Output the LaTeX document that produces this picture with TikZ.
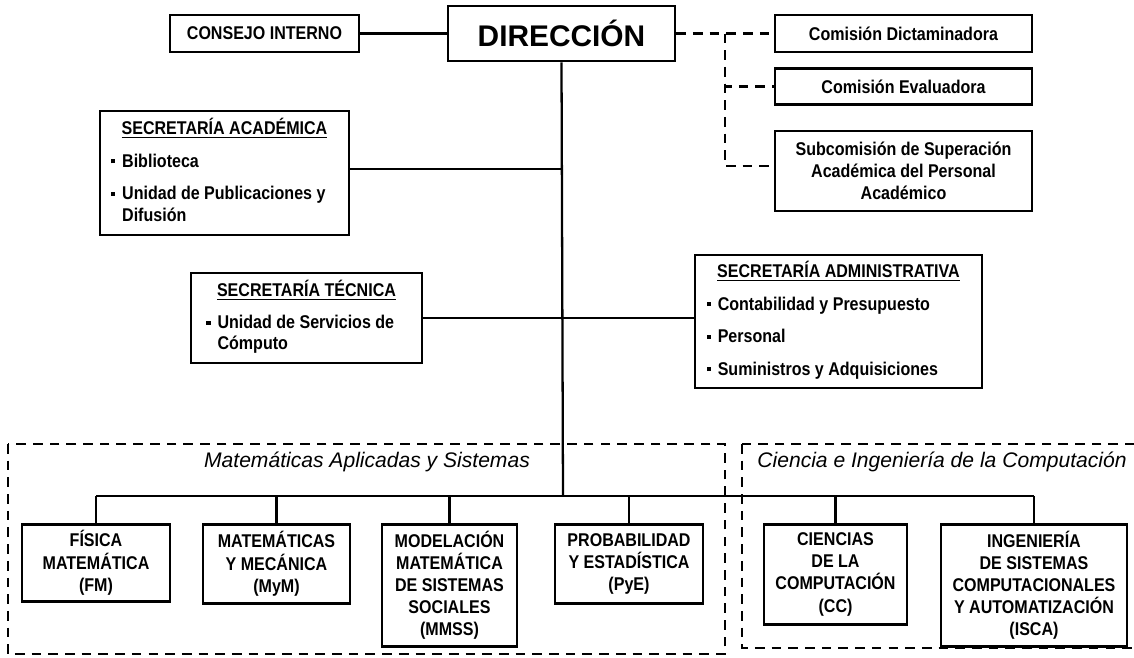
\documentclass[tikz,border=0pt]{standalone}
\usepackage{fontspec}
\setmainfont{Liberation Sans}
\newfontfamily\narrowsans[FakeStretch=0.87]{Liberation Sans}
\usepackage{tikz}
\usetikzlibrary{positioning}

\newcommand{\itm}{\rule[0.22em]{2.3pt}{2.3pt}\hspace{4pt}}

\tikzset{
  unit/.style={shape=rectangle, draw=black, line width=1.5pt, align=center, inner sep=2pt,
    font=\narrowsans\bfseries\fontsize{10.5}{12.6}\selectfont},
  secbox/.style={unit, font=\narrowsans\bfseries\fontsize{10.5}{12}\selectfont},
  link/.style={draw=black, line width=1.3pt},
  dlink/.style={link, dash pattern=on 5.5pt off 4pt},
  region/.style={draw=black, line width=1.3pt, dash pattern=on 5.5pt off 4pt},
  areatitle/.style={font=\itshape\fontsize{12}{14}\selectfont}
}

\begin{document}
\begin{tikzpicture}[x=0.02cm, y=-0.02cm]
  \useasboundingbox (0,0) rectangle (1134,657);

  \draw[region] (8,444) rectangle (725,654);
  \draw[region] (742,444) rectangle (1160,648);
  \node[areatitle] (tma) at (367,462) {Matemáticas Aplicadas y Sistemas};
  \node[areatitle] (tcic) at (942,462) {Ciencia e Ingeniería de la Computación};

  \node[unit, minimum width=4.54cm, minimum height=1.1cm,
        font=\bfseries\fontsize{17}{20}\selectfont] (direccion) at (561.5,33.5) {DIRECCIÓN};
  \node[unit, minimum width=3.78cm, minimum height=0.74cm] (consejo) at (264.5,33.5) {CONSEJO INTERNO};
  \node[unit, minimum width=5.14cm, minimum height=0.74cm] (dictam) at (903.5,33.5) {Comisión Dictaminadora};
  \node[unit, minimum width=5.14cm, minimum height=0.72cm] (evalua) at (903.5,86.5) {Comisión Evaluadora};
  \node[unit, minimum width=5.14cm, minimum height=1.6cm] (subcom) at (903.5,171)
    {Subcomisión de Superación\\Académica del Personal\\Académico};

  \node[secbox, minimum width=4.98cm, minimum height=2.48cm] (secacad) at (224.5,173) {%
    \begin{tabular}{@{}l@{}}
      \multicolumn{1}{c}{\underline{SECRETARÍA ACADÉMICA}}\\[6.5pt]
      \itm Biblioteca\\[6.5pt]
      \itm Unidad de Publicaciones y\\
      \hphantom{\itm}Difusión
    \end{tabular}};
  \node[secbox, minimum width=4.62cm, minimum height=1.8cm] (sectec) at (306.5,318) {%
    \begin{tabular}{@{}l@{}}
      \multicolumn{1}{c}{\underline{SECRETARÍA TÉCNICA}}\\[6.5pt]
      \itm Unidad de Servicios de\\
      \hphantom{\itm}Cómputo
    \end{tabular}};
  \node[secbox, minimum width=5.74cm, minimum height=2.66cm] (secadm) at (838.5,321.5) {%
    \begin{tabular}{@{}l@{}}
      \multicolumn{1}{c}{\underline{SECRETARÍA ADMINISTRATIVA}}\\[6.5pt]
      \itm Contabilidad y Presupuesto\\[6.5pt]
      \itm Personal\\[6.5pt]
      \itm Suministros y Adquisiciones
    \end{tabular}};

  \node[unit, anchor=north, minimum width=2.96cm, minimum height=1.54cm] (fm) at (96,523)
    {FÍSICA\\MATEMÁTICA\\(FM)};
  \node[unit, anchor=north, minimum width=2.94cm, minimum height=1.58cm] (mym) at (276.5,523)
    {MATEMÁTICAS\\Y MECÁNICA\\(MyM)};
  \node[unit, anchor=north, minimum width=2.7cm, minimum height=2.44cm] (mmss) at (449.5,523)
    {MODELACIÓN\\MATEMÁTICA\\DE SISTEMAS\\SOCIALES\\(MMSS)};
  \node[unit, anchor=north, minimum width=2.96cm, minimum height=1.58cm] (pye) at (629,523)
    {PROBABILIDAD\\Y ESTADÍSTICA\\(PyE)};
  \node[unit, anchor=north, minimum width=2.86cm, minimum height=2.0cm] (cc) at (835.5,523)
    {CIENCIAS\\DE LA\\COMPUTACIÓN\\(CC)};
  \node[unit, anchor=north, minimum width=3.72cm, minimum height=2.44cm] (isca) at (1034,523)
    {INGENIERÍA\\DE SISTEMAS\\COMPUTACIONALES\\Y AUTOMATIZACIÓN\\(ISCA)};

  \coordinate (bar) at (563,496);
  \coordinate (jd) at (725,33.5);
  \coordinate (ja) at (563,169);

  \draw[link] (consejo) -- (direccion);
  \draw[link] (direccion.south) -- (bar);
  \draw[link] (ja) -- (ja -| secacad.east);
  \draw[link] (sectec.east) -- (sectec.east -| secadm.west);
  \draw[link] (fm.north |- bar) -- (isca.north |- bar);
  \foreach \u in {fm, mym, mmss, pye, cc, isca}
    \draw[link] (\u.north) -- (\u.north |- bar);

  \draw[dlink] (direccion.east) -- (dictam.west);
  \draw[dlink] (jd) |- (evalua.west);
  \draw[dlink] (jd) |- ([yshift=0.1cm]subcom.west);
\end{tikzpicture}
\end{document}
